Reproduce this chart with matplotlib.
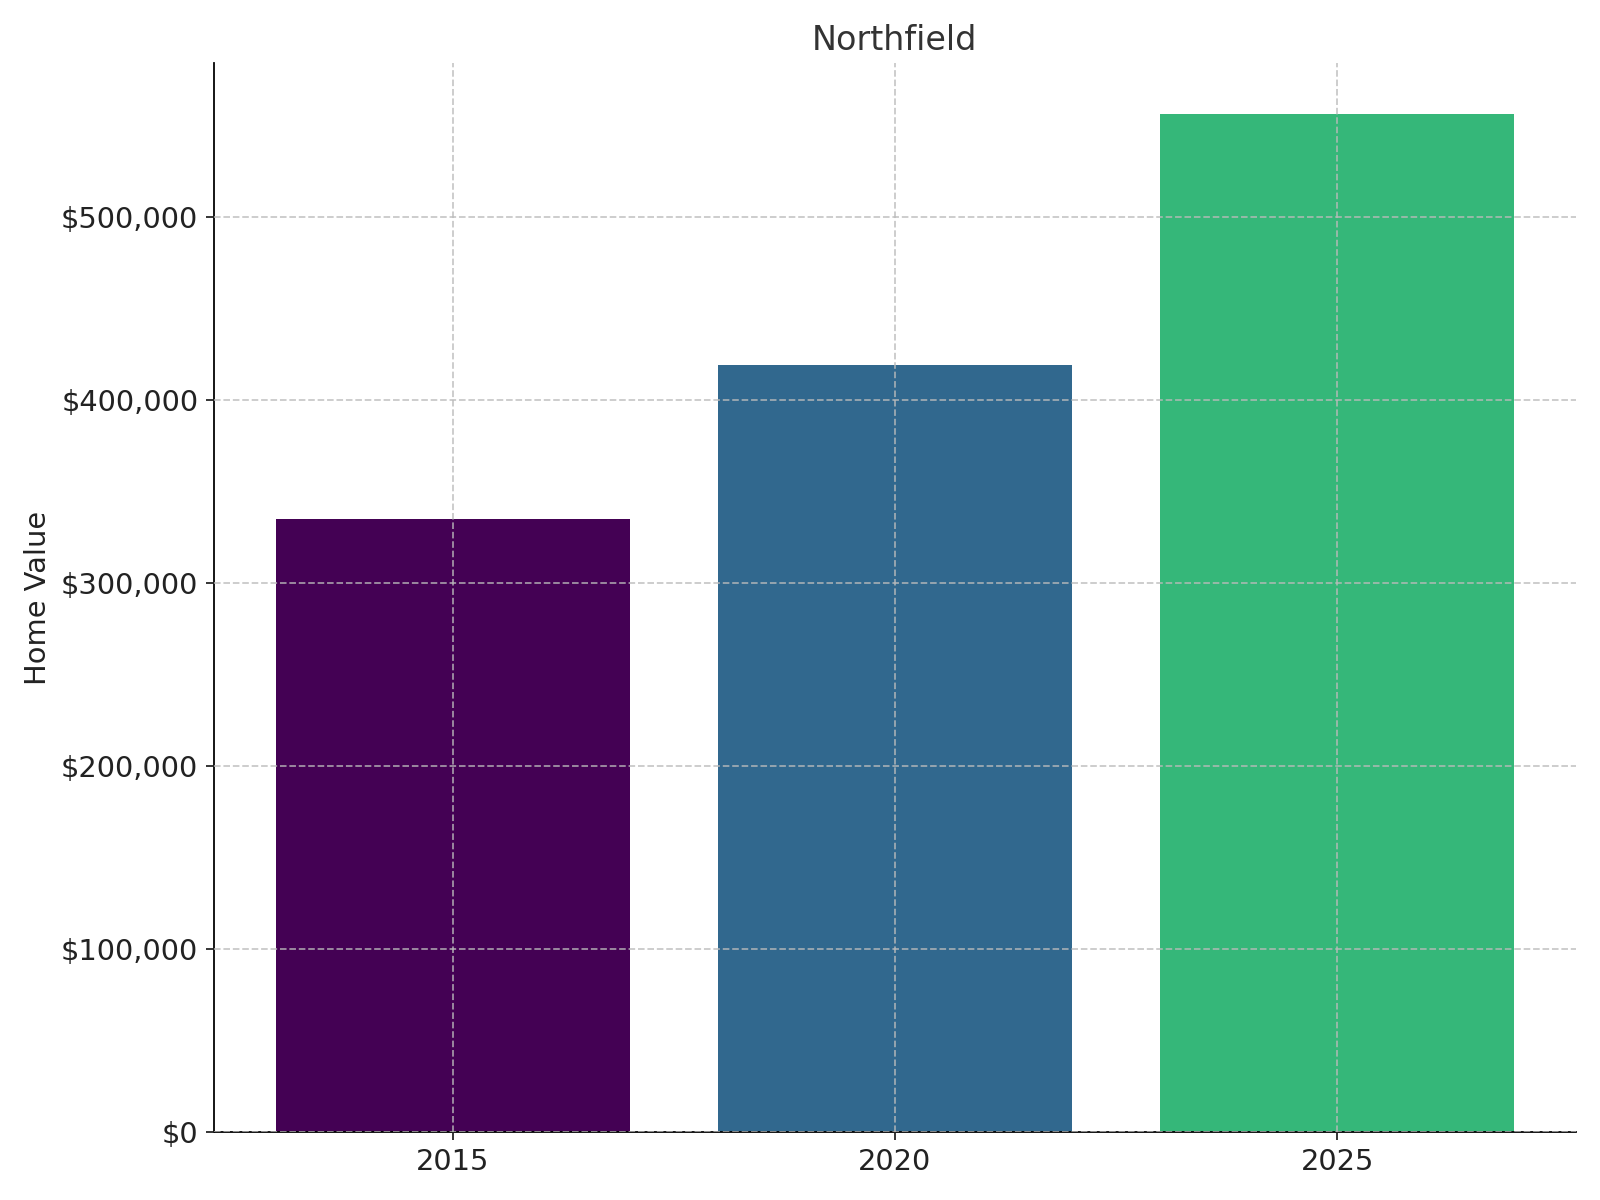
import matplotlib.pyplot as plt
from matplotlib.ticker import FuncFormatter

years = ['2015', '2020', '2025']
values = [335000, 419000, 556000]
colors = ['#440154', '#31688e', '#35b779']

fig, ax = plt.subplots(figsize=(10, 7.5), dpi=160)
ax.bar(years, values, color=colors, zorder=1)
ax.grid(True, linestyle='--', color='#bbbbbb', linewidth=0.8, alpha=0.8, zorder=2)
ax.set_axisbelow(False)
ax.yaxis.set_major_formatter(FuncFormatter(lambda v, p: f'${v:,.0f}'))
ax.set_ylabel('Home Value', fontsize=13, color='#222222')
ax.set_title('Northfield', fontsize=15, color='#333333')
ax.tick_params(labelsize=13, colors='#222222')
for s in ['top', 'right']:
    ax.spines[s].set_visible(False)
plt.tight_layout()
plt.savefig('out.png')
